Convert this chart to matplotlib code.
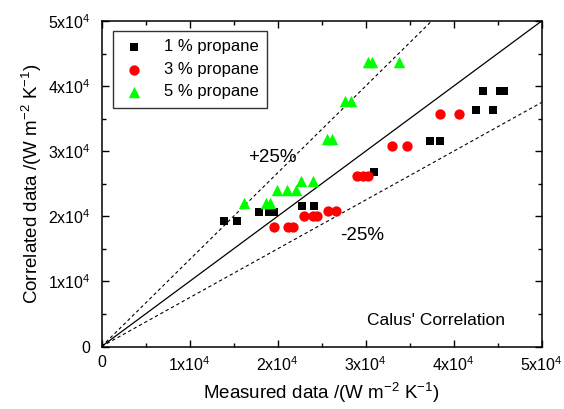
import numpy as np
import matplotlib
matplotlib.use("Agg")
import matplotlib.pyplot as plt
from matplotlib.ticker import MultipleLocator

plt.rcParams['font.family'] = ['Liberation Sans', 'DejaVu Sans']
plt.rcParams['mathtext.default'] = 'regular'

# values, in units of 1e4 W m^-2 K^-1
x_1pct = [1.395, 1.536, 1.793, 1.907, 1.96, 2.275, 2.418, 3.097, 3.733, 3.847, 4.256, 4.445, 4.332, 4.528, 4.574]
y_1pct = [1.928, 1.928, 2.066, 2.066, 2.066, 2.158, 2.158, 2.676, 3.152, 3.152, 3.633, 3.633, 3.929, 3.929, 3.929]

x_3pct = [1.96, 2.123, 2.18, 2.305, 2.407, 2.445, 2.57, 2.665, 2.9, 2.975, 3.03, 3.298, 3.468, 3.839, 4.066]
y_3pct = [1.84, 1.84, 1.84, 2.005, 2.005, 2.005, 2.086, 2.086, 2.619, 2.619, 2.619, 3.085, 3.085, 3.571, 3.571]

x_5pct = [1.619, 1.866, 1.915, 1.99, 2.105, 2.21, 2.267, 2.4, 2.56, 2.616, 2.767, 2.832, 3.025, 3.07, 3.384]
y_5pct = [2.209, 2.209, 2.209, 2.404, 2.404, 2.404, 2.542, 2.542, 3.187, 3.187, 3.776, 3.776, 4.375, 4.375, 4.375]

series_labels = ['1 % propane', '3 % propane', '5 % propane']
tick_values = [0, 1, 2, 3, 4, 5]
tick_labels = ['0', '1x10$^4$', '2x10$^4$', '3x10$^4$', '4x10$^4$', '5x10$^4$']

scale = 1e4

fig = plt.figure(figsize=(5.64, 4.09), dpi=100)
ax = fig.add_axes([0.18, 0.1528, 0.7805, 0.7959])

# parity line and +/-25 % bands
xl = np.array([0, 5]) * scale
ax.plot(xl, xl, color='black', lw=0.9, zorder=1)
ax.plot(xl, xl / 0.75, color='black', lw=0.8, ls=(0, (3, 2.5)), zorder=1)
ax.plot(xl, xl * 0.75, color='black', lw=0.8, ls=(0, (3, 2.5)), zorder=1)

ax.scatter(np.array(x_1pct) * scale, np.array(y_1pct) * scale, marker='s', s=40,
           color='black', label=series_labels[0], zorder=3, linewidths=0)
ax.scatter(np.array(x_3pct) * scale, np.array(y_3pct) * scale, marker='o', s=55,
           color='#ff0000', label=series_labels[1], zorder=3, linewidths=0)
ax.scatter(np.array(x_5pct) * scale, np.array(y_5pct) * scale, marker='^', s=68,
           color='#00ff00', label=series_labels[2], zorder=3, linewidths=0)

ax.set_xlim(0, 5 * scale)
ax.set_ylim(0, 5 * scale)
ax.set_xticks(np.array(tick_values) * scale)
ax.set_yticks(np.array(tick_values) * scale)
ax.set_xticklabels(tick_labels)
ax.set_yticklabels(tick_labels)
ax.xaxis.set_minor_locator(MultipleLocator(0.5 * scale))
ax.yaxis.set_minor_locator(MultipleLocator(0.5 * scale))
ax.tick_params(which='both', direction='in', top=True, right=True, labelsize=11.5, width=1)
ax.tick_params(which='major', length=5)
ax.tick_params(axis='y', which='major', pad=8)
ax.tick_params(axis='x', which='major', pad=6)
ax.tick_params(which='minor', length=3)
for sp in ax.spines.values():
    sp.set_linewidth(1.1)

ax.set_xlabel('Measured data /(W m$^{-2}$ K$^{-1}$)', fontsize=13.5, labelpad=5)
ax.set_ylabel('Correlated data /(W m$^{-2}$ K$^{-1}$)', fontsize=13.5, labelpad=3)

ax.text(1.665 * scale, 2.91 * scale, '+25%', fontsize=13.5, va='center', ha='left')
ax.text(2.71 * scale, 1.71 * scale, '-25%', fontsize=13.5, va='center', ha='left')
ax.text(3.02 * scale, 0.407 * scale, "Calus' Correlation", fontsize=12.5, va='center', ha='left')

leg = ax.legend(loc='upper left', bbox_to_anchor=(0.025, 0.969), fontsize=12, frameon=True,
                fancybox=False, edgecolor='black', handletextpad=1.0, borderpad=0.5,
                labelspacing=0.45, handlelength=1.6, markerscale=1.0, borderaxespad=0)
leg.get_frame().set_linewidth(1.0)

fig.savefig('out.png', dpi=100)
